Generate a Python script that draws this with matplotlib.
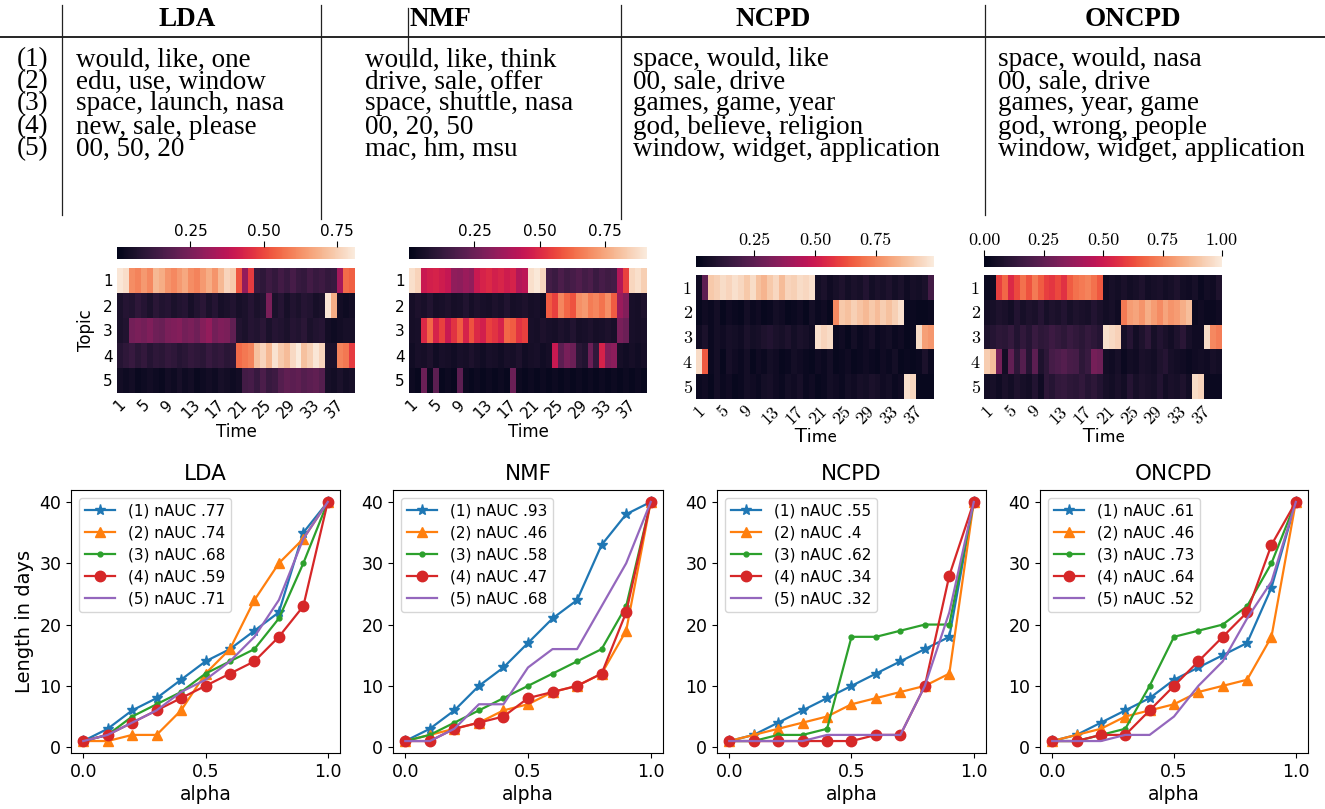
import matplotlib

matplotlib.use("Agg")
import matplotlib.pyplot as plt
import numpy as np
import seaborn as sns
from matplotlib.lines import Line2D

# ---------------------------------------------------------------------------
# Canvas (pixel based layout, y measured from the top)
# ---------------------------------------------------------------------------
W, H = 1325, 809

# ---------------------------------------------------------------------------
# Table of top words
# ---------------------------------------------------------------------------
METHODS = ["LDA", "NMF", "NCPD", "ONCPD"]
ROW_LABELS = ["(1)", "(2)", "(3)", "(4)", "(5)"]
LDA_WORDS = ["would, like, one", "edu, use, window", "space, launch, nasa",
             "new, sale, please", "00, 50, 20"]
NMF_WORDS = ["would, like, think", "drive, sale, offer", "space, shuttle, nasa",
             "00, 20, 50", "mac, hm, msu"]
NCPD_WORDS = ["space, would, like", "00, sale, drive", "games, game, year",
              "god, believe, religion", "window, widget, application"]
ONCPD_WORDS = ["space, would, nasa", "00, sale, drive", "games, year, game",
               "god, wrong, people", "window, widget, application"]

# ---------------------------------------------------------------------------
# Topic prevalence over time (5 topics x 40 time steps)
# ---------------------------------------------------------------------------
LDA_HEAT = [
    [0.80, 0.78, 0.62, 0.60, 0.64, 0.61, 0.70, 0.68, 0.63, 0.61, 0.64, 0.67, 0.62, 0.60,
     0.64, 0.68, 0.63, 0.70, 0.76, 0.74, 0.52, 0.30, 0.48, 0.12, 0.10, 0.13, 0.11, 0.14,
     0.12, 0.15, 0.12, 0.11, 0.14, 0.12, 0.13, 0.11, 0.12, 0.33, 0.56, 0.54],
    [0.06, 0.08, 0.07, 0.10, 0.08, 0.06, 0.09, 0.07, 0.08, 0.06, 0.07, 0.08, 0.05, 0.07,
     0.09, 0.06, 0.08, 0.05, 0.06, 0.07, 0.05, 0.06, 0.08, 0.06, 0.07, 0.25, 0.06, 0.08,
     0.05, 0.07, 0.06, 0.08, 0.07, 0.05, 0.06, 0.80, 0.68, 0.04, 0.03, 0.04],
    [0.06, 0.07, 0.24, 0.25, 0.24, 0.26, 0.23, 0.22, 0.25, 0.26, 0.27, 0.24, 0.25, 0.23,
     0.27, 0.30, 0.24, 0.26, 0.25, 0.20, 0.07, 0.06, 0.08, 0.07, 0.09, 0.06, 0.08, 0.07,
     0.06, 0.08, 0.07, 0.09, 0.06, 0.07, 0.08, 0.04, 0.03, 0.04, 0.05, 0.05],
    [0.08, 0.10, 0.12, 0.09, 0.11, 0.08, 0.10, 0.09, 0.11, 0.10, 0.08, 0.09, 0.11, 0.10,
     0.09, 0.12, 0.10, 0.11, 0.09, 0.10, 0.56, 0.58, 0.60, 0.72, 0.76, 0.70, 0.79, 0.74,
     0.71, 0.77, 0.81, 0.72, 0.75, 0.80, 0.76, 0.06, 0.06, 0.60, 0.58, 0.48],
    [0.04, 0.03, 0.04, 0.02, 0.03, 0.04, 0.03, 0.02, 0.04, 0.03, 0.05, 0.03, 0.04, 0.02,
     0.03, 0.04, 0.03, 0.05, 0.04, 0.03, 0.04, 0.14, 0.15, 0.12, 0.16, 0.12, 0.13, 0.18,
     0.20, 0.19, 0.20, 0.18, 0.19, 0.20, 0.18, 0.05, 0.04, 0.06, 0.04, 0.05],
]
NMF_HEAT = [
    [0.88, 0.85, 0.45, 0.47, 0.48, 0.46, 0.44, 0.33, 0.32, 0.35, 0.33, 0.45, 0.48, 0.50,
     0.47, 0.49, 0.46, 0.48, 0.40, 0.42, 0.88, 0.90, 0.86, 0.16, 0.14, 0.18, 0.15, 0.17,
     0.19, 0.16, 0.18, 0.14, 0.17, 0.15, 0.16, 0.40, 0.55, 0.86, 0.88, 0.84],
    [0.05, 0.07, 0.06, 0.08, 0.05, 0.06, 0.07, 0.05, 0.06, 0.08, 0.05, 0.07, 0.06, 0.05,
     0.07, 0.06, 0.08, 0.05, 0.06, 0.07, 0.05, 0.06, 0.04, 0.60, 0.55, 0.68, 0.62, 0.58,
     0.70, 0.72, 0.66, 0.68, 0.64, 0.70, 0.60, 0.35, 0.30, 0.06, 0.05, 0.07],
    [0.05, 0.06, 0.50, 0.62, 0.48, 0.55, 0.45, 0.52, 0.60, 0.48, 0.58, 0.50, 0.47, 0.55,
     0.52, 0.48, 0.62, 0.60, 0.52, 0.55, 0.06, 0.05, 0.07, 0.06, 0.05, 0.07, 0.06, 0.08,
     0.05, 0.06, 0.07, 0.05, 0.06, 0.07, 0.06, 0.28, 0.25, 0.06, 0.05, 0.06],
    [0.04, 0.06, 0.05, 0.07, 0.04, 0.06, 0.05, 0.04, 0.06, 0.05, 0.07, 0.05, 0.04, 0.06,
     0.05, 0.04, 0.06, 0.05, 0.07, 0.04, 0.05, 0.06, 0.04, 0.05, 0.45, 0.22, 0.28, 0.25,
     0.10, 0.08, 0.25, 0.12, 0.48, 0.30, 0.32, 0.05, 0.04, 0.05, 0.04, 0.05],
    [0.03, 0.02, 0.25, 0.03, 0.22, 0.02, 0.03, 0.02, 0.22, 0.03, 0.02, 0.03, 0.02, 0.03,
     0.02, 0.03, 0.02, 0.25, 0.03, 0.02, 0.03, 0.02, 0.03, 0.02, 0.03, 0.02, 0.03, 0.02,
     0.03, 0.02, 0.03, 0.02, 0.03, 0.02, 0.03, 0.02, 0.03, 0.02, 0.03, 0.02],
]
NCPD_HEAT = [
    [0.05, 0.25, 0.90, 0.92, 0.95, 0.93, 0.96, 0.94, 0.90, 0.95, 0.88, 0.85, 0.90, 0.94,
     0.87, 0.93, 0.92, 0.95, 0.94, 0.96, 0.06, 0.08, 0.05, 0.07, 0.09, 0.06, 0.08, 0.07,
     0.10, 0.06, 0.08, 0.07, 0.09, 0.06, 0.08, 0.05, 0.07, 0.06, 0.08, 0.18],
    [0.03, 0.05, 0.04, 0.06, 0.03, 0.05, 0.04, 0.03, 0.06, 0.04, 0.05, 0.03, 0.04, 0.06,
     0.05, 0.03, 0.04, 0.05, 0.03, 0.06, 0.04, 0.05, 0.03, 0.75, 0.90, 0.88, 0.92, 0.89,
     0.86, 0.90, 0.87, 0.91, 0.88, 0.92, 0.96, 0.03, 0.04, 0.03, 0.03, 0.04],
    [0.05, 0.08, 0.04, 0.06, 0.05, 0.07, 0.06, 0.05, 0.08, 0.06, 0.07, 0.09, 0.10, 0.08,
     0.07, 0.09, 0.06, 0.08, 0.07, 0.05, 0.96, 0.93, 0.95, 0.04, 0.05, 0.03, 0.06, 0.04,
     0.05, 0.07, 0.04, 0.05, 0.06, 0.04, 0.05, 0.03, 0.04, 0.95, 0.80, 0.78],
    [0.95, 0.65, 0.04, 0.06, 0.03, 0.07, 0.05, 0.04, 0.06, 0.03, 0.05, 0.04, 0.06, 0.05,
     0.03, 0.04, 0.06, 0.05, 0.04, 0.03, 0.05, 0.04, 0.06, 0.03, 0.04, 0.05, 0.03, 0.04,
     0.05, 0.04, 0.03, 0.05, 0.04, 0.06, 0.03, 0.04, 0.03, 0.04, 0.08, 0.04],
    [0.04, 0.05, 0.03, 0.06, 0.04, 0.05, 0.03, 0.04, 0.06, 0.05, 0.04, 0.06, 0.07, 0.05,
     0.04, 0.06, 0.05, 0.07, 0.04, 0.05, 0.03, 0.04, 0.06, 0.05, 0.04, 0.06, 0.05, 0.07,
     0.06, 0.08, 0.07, 0.05, 0.06, 0.04, 0.05, 0.96, 0.94, 0.03, 0.03, 0.03],
]
ONCPD_HEAT = [
    [0.03, 0.04, 0.60, 0.68, 0.55, 0.62, 0.70, 0.64, 0.72, 0.66, 0.60, 0.58, 0.62, 0.57,
     0.66, 0.70, 0.72, 0.74, 0.70, 0.65, 0.04, 0.06, 0.05, 0.07, 0.05, 0.06, 0.08, 0.05,
     0.06, 0.07, 0.05, 0.06, 0.08, 0.05, 0.04, 0.06, 0.03, 0.05, 0.04, 0.08],
    [0.05, 0.06, 0.08, 0.07, 0.05, 0.09, 0.06, 0.08, 0.07, 0.10, 0.06, 0.08, 0.07, 0.09,
     0.06, 0.08, 0.07, 0.06, 0.09, 0.07, 0.05, 0.06, 0.04, 0.72, 0.80, 0.82, 0.78, 0.84,
     0.80, 0.76, 0.82, 0.78, 0.80, 0.84, 0.88, 0.03, 0.04, 0.03, 0.03, 0.04],
    [0.08, 0.10, 0.12, 0.11, 0.14, 0.09, 0.13, 0.10, 0.15, 0.12, 0.13, 0.16, 0.14, 0.12,
     0.15, 0.13, 0.11, 0.14, 0.12, 0.10, 0.97, 0.95, 0.93, 0.06, 0.10, 0.05, 0.08, 0.12,
     0.06, 0.09, 0.07, 0.05, 0.08, 0.11, 0.06, 0.04, 0.04, 0.96, 0.75, 0.73],
    [0.92, 0.88, 0.30, 0.05, 0.25, 0.12, 0.22, 0.10, 0.24, 0.08, 0.12, 0.18, 0.20, 0.22,
     0.19, 0.18, 0.12, 0.15, 0.30, 0.28, 0.05, 0.04, 0.06, 0.03, 0.05, 0.04, 0.07, 0.06,
     0.05, 0.08, 0.10, 0.06, 0.05, 0.04, 0.03, 0.04, 0.05, 0.04, 0.06, 0.05],
    [0.05, 0.06, 0.04, 0.07, 0.05, 0.08, 0.06, 0.05, 0.09, 0.04, 0.12, 0.10, 0.13, 0.14,
     0.12, 0.11, 0.13, 0.10, 0.12, 0.09, 0.06, 0.05, 0.07, 0.05, 0.10, 0.06, 0.08, 0.07,
     0.06, 0.09, 0.05, 0.07, 0.06, 0.08, 0.05, 0.96, 0.94, 0.03, 0.03, 0.03],
]
TIME_LABELS = ["1", "5", "9", "13", "17", "21", "25", "29", "33", "37"]
TOPIC_LABELS = ["1", "2", "3", "4", "5"]

# ---------------------------------------------------------------------------
# Length in days vs alpha
# ---------------------------------------------------------------------------
ALPHA = [0.0, 0.1, 0.2, 0.3, 0.4, 0.5, 0.6, 0.7, 0.8, 0.9, 1.0]
LDA_LEN = [
    [1, 3, 6, 8, 11, 14, 16, 19, 22, 35, 40],
    [1, 1, 2, 2, 6, 12, 16, 24, 30, 34, 40],
    [1, 2, 5, 7, 9, 12, 14, 16, 21, 30, 40],
    [1, 2, 4, 6, 8, 10, 12, 14, 18, 23, 40],
    [1, 2, 4, 6, 9, 11, 14, 18, 24, 34, 40],
]
NMF_LEN = [
    [1, 3, 6, 10, 13, 17, 21, 24, 33, 38, 40],
    [1, 2, 3, 4, 6, 7, 9, 10, 12, 19, 40],
    [1, 2, 4, 6, 8, 10, 12, 14, 16, 23, 40],
    [1, 1, 3, 4, 5, 8, 9, 10, 12, 22, 40],
    [1, 1, 3, 7, 7, 13, 16, 16, 23, 30, 40],
]
NCPD_LEN = [
    [1, 2, 4, 6, 8, 10, 12, 14, 16, 18, 40],
    [1, 2, 3, 4, 5, 7, 8, 9, 10, 12, 40],
    [1, 1, 2, 2, 3, 18, 18, 19, 20, 20, 40],
    [1, 1, 1, 1, 1, 1, 2, 2, 10, 28, 40],
    [1, 1, 1, 1, 2, 2, 2, 2, 10, 22, 40],
]
ONCPD_LEN = [
    [1, 2, 4, 6, 8, 11, 13, 15, 17, 26, 40],
    [1, 2, 3, 5, 6, 7, 9, 10, 11, 18, 40],
    [1, 1, 2, 3, 10, 18, 19, 20, 23, 30, 40],
    [1, 1, 2, 2, 6, 10, 14, 18, 22, 33, 40],
    [1, 1, 1, 2, 2, 5, 10, 14, 21, 27, 40],
]
LDA_NAUC = [".77", ".74", ".68", ".59", ".71"]
NMF_NAUC = [".93", ".46", ".58", ".47", ".68"]
NCPD_NAUC = [".55", ".4", ".62", ".34", ".32"]
ONCPD_NAUC = [".61", ".46", ".73", ".64", ".52"]

# marker style per topic: (marker, size)
TOPIC_MARKERS = [("*", 8), ("^", 7.5), (".", 7), ("o", 7.5), ("", 0)]

SERIF = "Liberation Serif"
ROCKET = sns.color_palette("rocket", as_cmap=True)


def px_axes(fig, x0, y0, x1, y1):
    """Axes from a pixel box measured from the top-left corner."""
    return fig.add_axes([x0 / W, 1 - y1 / H, (x1 - x0) / W, (y1 - y0) / H])


def fx(x):
    return x / W


def fy(y):
    return 1 - y / H


def draw_table(fig):
    # rules
    fig.add_artist(Line2D([fx(0), fx(W)], [fy(37), fy(37)], color="black", lw=1.2))
    for x, y0, y1 in [(62, 5, 215), (321, 5, 219), (408, 8, 67), (621, 5, 219), (985, 5, 215)]:
        fig.add_artist(Line2D([fx(x), fx(x)], [fy(y0), fy(y1)], color="#222222", lw=0.9))

    header_x = [187, 440, 773, 1133]
    for name, x in zip(METHODS, header_x):
        fig.text(fx(x), fy(19), name, ha="center", va="center", fontsize=19.5,
                 fontweight="bold", family=SERIF)

    row_y = [60, 82, 104, 127, 149]
    for lab, y in zip(ROW_LABELS, row_y):
        fig.text(fx(48), fy(y), lab, ha="right", va="center", fontsize=19.5, family=SERIF)

    col_x = [76, 365, 633, 998]
    for words, x in zip([LDA_WORDS, NMF_WORDS, NCPD_WORDS, ONCPD_WORDS], col_x):
        for w, y in zip(words, row_y):
            fig.text(fx(x), fy(y), w, ha="left", va="center", fontsize=19.5, family=SERIF)


def draw_heatmap(fig, box, cbox, data, vmin, vmax, cticks, latex, ylabel):
    ax = px_axes(fig, *box)
    cax = px_axes(fig, *cbox)
    arr = np.array(data)
    mesh = ax.pcolormesh(arr, cmap=ROCKET, vmin=vmin, vmax=vmax, edgecolors="face",
                         linewidth=0.0)
    ax.set_xlim(0, arr.shape[1])
    ax.set_ylim(arr.shape[0], 0)
    for s in ax.spines.values():
        s.set_visible(False)

    if latex:
        num_font = dict(family="cmr10", fontsize=13)
        lab_font = dict(family="cmss10", fontsize=14.5)
    else:
        num_font = dict(family="DejaVu Sans", fontsize=11)
        lab_font = dict(family="DejaVu Sans", fontsize=12)

    ax.set_xticks(np.arange(0, 40, 4) + 0.5)
    ax.set_xticklabels(TIME_LABELS, rotation=45, **num_font)
    ax.set_yticks(np.arange(5) + 0.5)
    ax.set_yticklabels(TOPIC_LABELS, rotation=0, **num_font)
    ax.tick_params(length=0, pad=3)
    ax.set_xlabel("Time", labelpad=1, **lab_font)
    if ylabel:
        ax.set_ylabel("Topic", labelpad=6, **lab_font)

    cb = fig.colorbar(mesh, cax=cax, orientation="horizontal")
    cb.outline.set_visible(False)
    cax.xaxis.set_ticks_position("top")
    cb.set_ticks(cticks)
    cb.set_ticklabels([f"{t:.2f}" for t in cticks])
    for t in cax.get_xticklabels():
        t.set_family(num_font["family"])
        t.set_fontsize(num_font["fontsize"])
    cax.tick_params(length=4, width=0.8, pad=2)


def draw_lines(fig, box, title, curves, naucs, ylabel):
    ax = px_axes(fig, *box)
    for k, ys in enumerate(curves):
        marker, ms = TOPIC_MARKERS[k]
        ax.plot(ALPHA, ys, color=f"C{k}", lw=1.6, marker=marker if marker else None,
                markersize=ms, label=f"({k + 1}) nAUC {naucs[k]}")
    ax.set_title(title, fontsize=15.5, pad=7)
    ax.set_xlabel("alpha", fontsize=13.5, labelpad=3)
    if ylabel:
        ax.set_ylabel("Length in days", fontsize=14, labelpad=4)
    ax.set_xticks([0.0, 0.5, 1.0])
    ax.set_yticks([0, 10, 20, 30, 40])
    ax.tick_params(labelsize=12.5)
    ax.legend(loc="upper left", fontsize=11, handlelength=2.0, borderpad=0.4,
              labelspacing=0.45)


def main():
    fig = plt.figure(figsize=(W / 100, H / 100), dpi=100)
    fig.patch.set_facecolor("white")

    draw_table(fig)

    # heatmaps
    draw_heatmap(fig, (117, 268, 355, 393), (117, 247, 355, 259), LDA_HEAT, 0.0, 0.81,
                 [0.25, 0.50, 0.75], False, True)
    draw_heatmap(fig, (409, 268, 647, 393), (409, 247, 647, 259), NMF_HEAT, 0.0, 0.91,
                 [0.25, 0.50, 0.75], False, False)
    draw_heatmap(fig, (696, 275, 934, 399), (696, 256, 934, 267), NCPD_HEAT, 0.01, 0.99,
                 [0.25, 0.50, 0.75], True, False)
    draw_heatmap(fig, (984, 275, 1222, 399), (984, 256, 1222, 267), ONCPD_HEAT, 0.0, 1.0,
                 [0.0, 0.25, 0.50, 0.75, 1.0], True, False)

    # line plots
    boxes = [(71, 490, 340, 753), (393, 490, 663, 753), (717, 490, 986, 753),
             (1040, 490, 1308, 753)]
    curves = [LDA_LEN, NMF_LEN, NCPD_LEN, ONCPD_LEN]
    naucs = [LDA_NAUC, NMF_NAUC, NCPD_NAUC, ONCPD_NAUC]
    for i, (box, name) in enumerate(zip(boxes, METHODS)):
        draw_lines(fig, box, name, curves[i], naucs[i], i == 0)

    fig.savefig("out.png", dpi=100, facecolor="white")
    plt.close(fig)


if __name__ == "__main__":
    main()
